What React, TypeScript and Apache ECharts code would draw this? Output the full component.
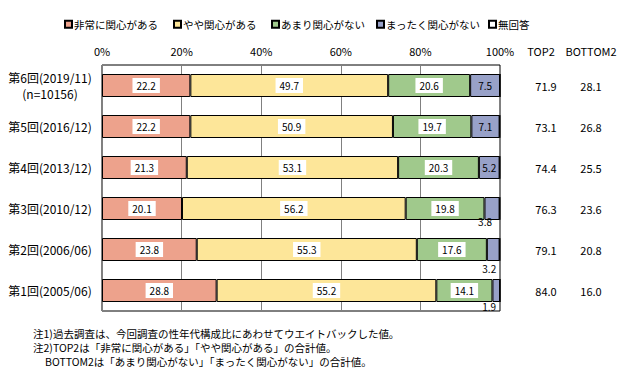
import React, { useEffect, useRef } from "react";
import * as echarts from "echarts";

const categories = [
  "第6回(2019/11)\n(n=10156)",
  "第5回(2016/12)",
  "第4回(2013/12)",
  "第3回(2010/12)",
  "第2回(2006/06)",
  "第1回(2005/06)",
];
const seriesNames = ["非常に関心がある", "やや関心がある", "あまり関心がない", "まったく関心がない", "無回答"];
const veryInterested = [22.2, 22.2, 21.3, 20.1, 23.8, 28.8];
const somewhatInterested = [49.7, 50.9, 53.1, 56.2, 55.3, 55.2];
const notVery = [20.6, 19.7, 20.3, 19.8, 17.6, 14.1];
const notAtAll = [7.5, 7.1, 5.2, 3.8, 3.2, 1.9];
const noAnswer = [0.0, 0.1, 0.1, 0.1, 0.1, 0.0];
const top2 = [71.9, 73.1, 74.4, 76.3, 79.1, 84.0];
const bottom2 = [28.1, 26.8, 25.5, 23.6, 20.8, 16.0];
const xTicks = [0, 20, 40, 60, 80, 100];
const notes = [
  "注1)過去調査は、今回調査の性年代構成比にあわせてウエイトバックした値。",
  "注2)TOP2は「非常に関心がある」「やや関心がある」の合計値。",
  "BOTTOM2は「あまり関心がない」「まったく関心がない」の合計値。",
];

const colors = ["#EDA28C", "#FDE699", "#A0C98C", "#98A1C8", "#FFFFFF"];
const FONT = "'Noto Sans CJK JP', sans-serif";
const legendLefts = [59, 168, 266, 371, 483];

// label tweaks for the small (outside) values of the last visible series
const smallLabelStyle: Record<number, { distance: number; offset: [number, number] }> = {
  3: { distance: -4, offset: [-7, 0] },
  4: { distance: 2, offset: [-4, 0] },
  5: { distance: -1, offset: [-7, 0] },
};

export default function App() {
  const ref = useRef<HTMLDivElement>(null);
  useEffect(() => {
    if (!ref.current) return;
    const chart = echarts.init(ref.current, null, { renderer: "svg" });
    const boxLabel = {
      show: true,
      position: "inside",
      color: "#000",
      fontSize: 10,
      fontFamily: FONT,
      backgroundColor: "#fff",
      padding: [3, 4, 2, 4],
      formatter: (p: any) => Number(p.value).toFixed(1),
    };
    const mk = (name: string, data: any[], idx: number, label: any) => ({
      name,
      type: "bar",
      stack: "total",
      barWidth: 23,
      data,
      itemStyle: { color: colors[idx], borderColor: "#000", borderWidth: 1 },
      label,
      emphasis: { disabled: true },
    });
    const blueData = notAtAll.map((v, i) => {
      const s = smallLabelStyle[i];
      if (!s) return v;
      return {
        value: v,
        label: { position: "bottom", distance: s.distance, offset: s.offset },
      };
    });
    chart.setOption({
      animation: false,
      textStyle: { fontFamily: FONT },
      legend: seriesNames.map((n, i) => ({
        top: 14,
        left: legendLefts[i],
        itemWidth: 7,
        itemHeight: 7,
        icon: "rect",
        data: [n],
        selectedMode: false,
        textStyle: { fontSize: 10.5, color: "#000", fontFamily: FONT, padding: [0, 0, 0, -3] },
      })),
      grid: {
        left: 102,
        right: 127,
        top: 65,
        bottom: 62,
        show: true,
        borderColor: "#000",
        borderWidth: 1,
        backgroundColor: "transparent",
      },
      xAxis: {
        type: "value",
        position: "top",
        min: xTicks[0],
        max: xTicks[xTicks.length - 1],
        interval: 20,
        axisLine: { show: false },
        axisTick: { show: false },
        axisLabel: { formatter: "{value}%", color: "#000", fontSize: 11, margin: 9, fontFamily: FONT },
        splitLine: { show: true, lineStyle: { color: "#808080", width: 1 } },
      },
      yAxis: [
        {
          type: "category",
          data: categories,
          inverse: true,
          axisLine: { show: false },
          axisTick: { show: false },
          axisLabel: {
            color: "#000",
            fontSize: 12,
            align: "center",
            margin: 52,
            lineHeight: 16,
            fontFamily: FONT,
          },
        },
        {
          type: "category",
          position: "right",
          offset: 0,
          data: top2.map((v) => v.toFixed(1)),
          inverse: true,
          axisLine: { show: false },
          axisTick: { show: false },
          axisLabel: { color: "#000", fontSize: 11, align: "center", margin: 46, fontFamily: FONT, padding: [0, 0, 5, 0] },
        },
        {
          type: "category",
          position: "right",
          offset: 0,
          data: bottom2.map((v) => v.toFixed(1)),
          inverse: true,
          axisLine: { show: false },
          axisTick: { show: false },
          axisLabel: { color: "#000", fontSize: 11, align: "center", margin: 91, fontFamily: FONT, padding: [0, 0, 5, 0] },
        },
      ],
      series: [
        mk(seriesNames[0], veryInterested, 0, boxLabel),
        mk(seriesNames[1], somewhatInterested, 1, boxLabel),
        mk(seriesNames[2], notVery, 2, boxLabel),
        mk(seriesNames[3], blueData, 3, {
          show: true,
          position: "inside",
          color: "#000",
          fontSize: 10,
          fontFamily: FONT,
          formatter: (p: any) => Number(p.value).toFixed(1),
        }),
        mk(seriesNames[4], noAnswer, 4, { show: false }),
      ],
      graphic: [
        {
          type: "text",
          x: 541,
          y: 51,
          style: { text: "TOP2", fontSize: 11, fontFamily: FONT, fill: "#000", align: "center", verticalAlign: "middle" },
        },
        {
          type: "text",
          x: 591,
          y: 51,
          style: { text: "BOTTOM2", fontSize: 11, fontFamily: FONT, fill: "#000", align: "center", verticalAlign: "middle" },
        },
        ...notes.map((t, i) => ({
          type: "text",
          x: i === 2 ? 45 : 33,
          y: 333 + i * 14,
          style: { text: t, fontSize: 10.5, fontFamily: FONT, fill: "#000", verticalAlign: "middle" },
        })),
      ],
    });
    return () => chart.dispose();
  }, []);
  return <div ref={ref} style={{ width: 627, height: 373, position: "absolute", left: 0, top: 0 }} />;
}
